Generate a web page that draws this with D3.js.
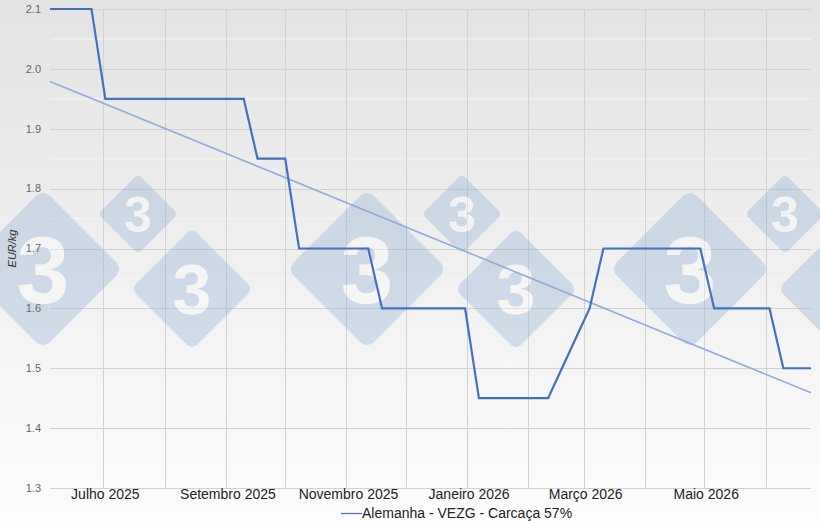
<!DOCTYPE html>
<html>
<head>
<meta charset="utf-8">
<script src="https://cdn.jsdelivr.net/npm/d3@7"></script>
<style>
  body { margin: 0; }
  svg { display: block; font-family: "Liberation Sans", Arial, sans-serif; }
</style>
</head>
<body>
<svg id="chart" width="820" height="521"></svg>
<script>
// weekly prices, first week = 4 June 2025
const firstWeek = new Date(2025, 5, 4);
const lastWeek = new Date(2026, 5, 24);
const prices = [2.1, 2.1, 2.1, 2.1,
  1.95, 1.95, 1.95, 1.95, 1.95, 1.95, 1.95, 1.95, 1.95, 1.95, 1.95,
  1.85, 1.85, 1.85,
  1.7, 1.7, 1.7, 1.7, 1.7, 1.7,
  1.6, 1.6, 1.6, 1.6, 1.6, 1.6, 1.6,
  1.45, 1.45, 1.45, 1.45, 1.45, 1.45,
  1.5, 1.55, 1.6,
  1.7, 1.7, 1.7, 1.7, 1.7, 1.7, 1.7, 1.7,
  1.6, 1.6, 1.6, 1.6, 1.6,
  1.5, 1.5, 1.5];
// trend line ends (linear fit as drawn)
const trendValues = [1.979, 1.459];

const yTicks = [1.3, 1.4, 1.5, 1.6, 1.7, 1.8, 1.9, 2.0, 2.1];
const monthLabels = ["Julho 2025", "Setembro 2025", "Novembro 2025", "Janeiro 2026", "Março 2026", "Maio 2026"];
const labelMonths = [new Date(2025, 6, 1), new Date(2025, 8, 1), new Date(2025, 10, 1),
  new Date(2026, 0, 1), new Date(2026, 2, 1), new Date(2026, 4, 1)];
const seriesName = "Alemanha - VEZG - Carcaça 57%";

const svg = d3.select("#chart"),
  width = +svg.attr("width"),
  height = +svg.attr("height");

const plotL = 50, plotR = 811, plotT = 9, plotB = 488;

const x = d3.scaleTime().domain([firstWeek, lastWeek]).range([plotL, plotR]);
const y = d3.scaleLinear().domain([1.3, 2.1]).range([plotB, plotT]);

const data = prices.map((v, i) => ({ date: d3.timeDay.offset(firstWeek, 7 * i), value: v }));

// background gradient
const defs = svg.append("defs");
const grad = defs.append("linearGradient").attr("id", "bg")
  .attr("x1", 0).attr("y1", 0).attr("x2", 0).attr("y2", 1);
grad.append("stop").attr("offset", "0%").attr("stop-color", "#e3e3e3");
grad.append("stop").attr("offset", "100%").attr("stop-color", "#fdfdfd");
svg.append("rect").attr("width", width).attr("height", height).attr("fill", "url(#bg)");

// grid: minor, major, months
const grid = svg.append("g");
grid.selectAll(".minor")
  .data(d3.range(1.35, 2.1, 0.1))
  .enter().append("line")
    .attr("x1", plotL).attr("x2", plotR)
    .attr("y1", d => y(d)).attr("y2", d => y(d))
    .attr("stroke", "#f6f6f6").attr("stroke-width", 1);
grid.selectAll(".major")
  .data(yTicks)
  .enter().append("line")
    .attr("x1", plotL).attr("x2", plotR)
    .attr("y1", d => Math.round(y(d)) + 0.5).attr("y2", d => Math.round(y(d)) + 0.5)
    .attr("stroke", "#d2d2d2").attr("stroke-width", 1);
grid.selectAll(".month")
  .data(d3.timeMonth.range(firstWeek, lastWeek))
  .enter().append("line")
    .attr("x1", d => Math.round(x(d)) + 0.5).attr("x2", d => Math.round(x(d)) + 0.5)
    .attr("y1", plotT).attr("y2", plotB)
    .attr("stroke", "#d2d2d2").attr("stroke-width", 1);

// watermark logos (diamonds with a "3")
const marks = [];
[43, 367, 690].forEach(cx => {
  marks.push({ cx: cx, cy: 269, r: 80, fs: 95 });
  marks.push({ cx: cx + 95, cy: 214, r: 40, fs: 50 });
  marks.push({ cx: cx + 149, cy: 289, r: 61, fs: 70 });
});
const wm = svg.append("g").attr("opacity", 0.34);
const logo = wm.selectAll("g").data(marks).enter().append("g")
  .attr("transform", d => `translate(${d.cx},${d.cy})`);
logo.append("rect")
  .attr("x", d => -d.r / Math.SQRT2).attr("y", d => -d.r / Math.SQRT2)
  .attr("width", d => d.r * Math.SQRT2).attr("height", d => d.r * Math.SQRT2)
  .attr("rx", d => d.r * 0.12)
  .attr("transform", "rotate(45)")
  .attr("fill", "#8aaed2");
logo.append("text")
  .attr("text-anchor", "middle")
  .attr("dy", "0.36em")
  .attr("font-weight", "bold")
  .attr("font-size", d => d.fs)
  .attr("fill", "#ffffff")
  .text("3");

// y tick labels
svg.append("g").selectAll("text")
  .data(yTicks)
  .enter().append("text")
    .attr("x", 41).attr("y", d => y(d))
    .attr("dy", "0.35em")
    .attr("text-anchor", "end")
    .attr("font-size", 11)
    .attr("fill", "#666")
    .text(d => d3.format(".1f")(d));

svg.append("text")
  .attr("transform", `translate(16,${(plotT + plotB) / 2}) rotate(-90)`)
  .attr("text-anchor", "middle")
  .attr("font-size", 11)
  .attr("font-style", "italic")
  .attr("fill", "#333")
  .text("EUR/kg");

// x labels
svg.append("g").selectAll("text")
  .data(labelMonths)
  .enter().append("text")
    .attr("x", d => x(d) + 2).attr("y", 499)
    .attr("text-anchor", "middle")
    .attr("font-size", 14)
    .attr("fill", "#222")
    .text((d, i) => monthLabels[i]);

// trend line
svg.append("line")
  .attr("x1", x(firstWeek)).attr("y1", y(trendValues[0]))
  .attr("x2", x(lastWeek)).attr("y2", y(trendValues[1]))
  .attr("stroke", "#8eaadb").attr("stroke-width", 1.6);

// price line
svg.append("path")
  .datum(data)
  .attr("d", d3.line().x(d => x(d.date)).y(d => y(d.value)))
  .attr("fill", "none")
  .attr("stroke", "#4470c0")
  .attr("stroke-width", 2.2)
  .attr("stroke-linejoin", "miter");

// legend
const legend = svg.append("g").attr("transform", "translate(341,513)");
legend.append("line").attr("x1", 0).attr("x2", 21).attr("y1", 0.5).attr("y2", 0.5)
  .attr("stroke", "#4470c0").attr("stroke-width", 1.2);
legend.append("text")
  .attr("x", 21).attr("y", 5)
  .attr("font-size", 14)
  .attr("fill", "#222")
  .text(seriesName);
</script>
</body>
</html>
